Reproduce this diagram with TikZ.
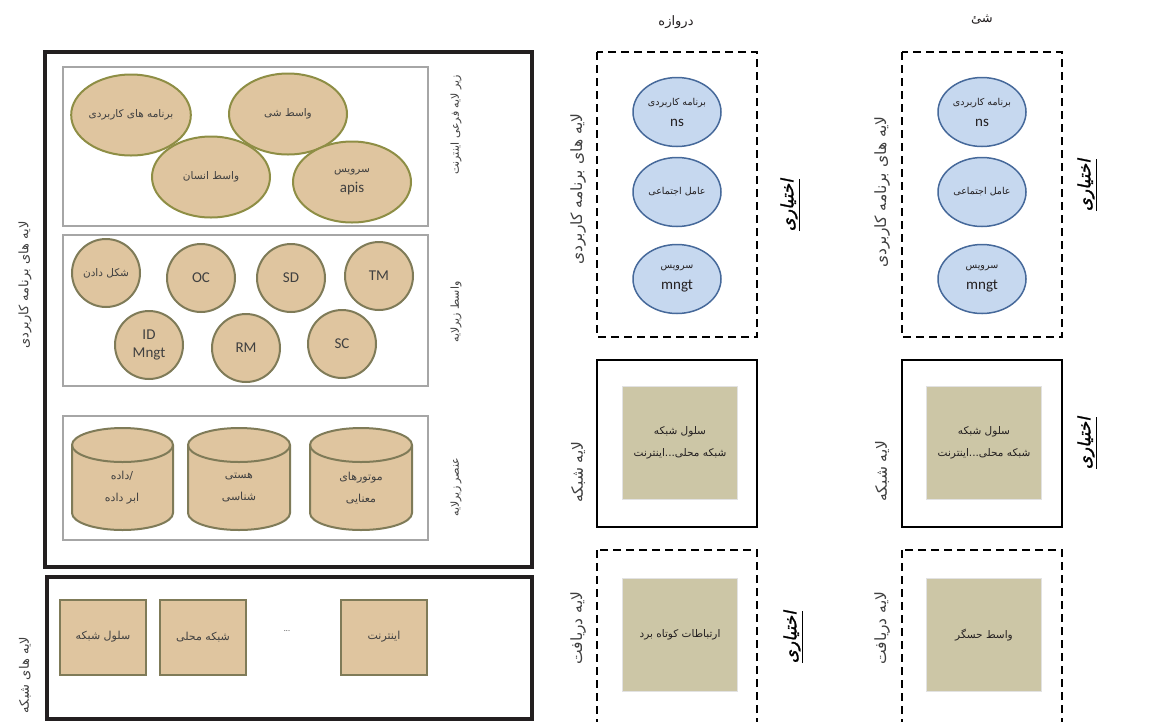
\documentclass[tikz,border=0pt]{standalone}
\usepackage{fontspec}
\setmainfont{Carlito}
\newfontfamily\arabicfont[Script=Arabic]{DejaVu Sans}
\newfontfamily\arabicbold[Script=Arabic,FakeBold=1.5,FakeSlant=0.2]{DejaVu Sans}
\TeXXeTstate=1
\usetikzlibrary{shapes.geometric}
\newcommand{\fatext}[1]{{\arabicfont\beginR #1\endR}}
\definecolor{tanfill}{HTML}{DFC59F}
\definecolor{oliveline}{HTML}{8E8E45}
\definecolor{circline}{HTML}{7F7B58}
\definecolor{boxgray}{HTML}{A6A6A6}
\definecolor{darkline}{HTML}{231F20}
\definecolor{textgray}{HTML}{404040}
\definecolor{bluefill}{HTML}{C6D8EF}
\definecolor{blueline}{HTML}{46699A}
\definecolor{khakifill}{HTML}{CCC6A6}
\definecolor{khakiline}{HTML}{E2E2E2}
\tikzset{
	tanellipse/.style={ellipse, draw=oliveline, line width=2pt, fill=tanfill, minimum width=118pt, minimum height=81pt, inner sep=0pt, align=center, text=textgray, font=\fontsize{10.5}{20}\selectfont},
	tancircle/.style={circle, draw=circline, line width=2pt, fill=tanfill, minimum size=68pt, inner sep=0pt, align=center, text=textgray, font=\fontsize{15}{18}\selectfont},
	tanbox/.style={draw=circline, line width=2pt, fill=tanfill, minimum width=86pt, minimum height=75pt, text=textgray, font=\fontsize{11}{12}\selectfont},
	tanline/.style={draw=circline, line width=2pt},
	graybox/.style={draw=boxgray, line width=1.8pt},
	thickbox/.style={draw=darkline, line width=3.5pt},
	blueellipse/.style={ellipse, draw=blueline, line width=1.5pt, fill=bluefill, minimum width=88pt, minimum height=69pt, inner sep=0pt, align=center, text=darkline, font=\fontsize{9.5}{21}\selectfont},
	khakibox/.style={draw=khakiline, line width=1.5pt, fill=khakifill, minimum width=115pt, minimum height=113pt, inner sep=0pt, align=center, text=darkline, font=\fontsize{10.5}{22}\selectfont},
	colbox/.style={draw=black, line width=1.8pt, dash pattern=on 8pt off 5pt},
	solidbox/.style={draw=black, line width=2.8pt},
	sidelabel/.style={rotate=90, text=textgray, font=\fontsize{11}{12}\selectfont},
	biglabel/.style={rotate=90, text=textgray, font=\fontsize{13}{14}\selectfont},
	collabel/.style={rotate=90, text=textgray, font=\fontsize{15.5}{17}\selectfont},
	optlabel/.style={rotate=90, font=\fontsize{17}{18}\selectfont},
	cyltext/.style={align=center, text=textgray, font=\fontsize{11}{22}\selectfont},
	coltitle/.style={text=darkline, font=\fontsize{13}{14}\selectfont},
}
\begin{document}
\begin{tikzpicture}[x=1pt,y=1pt]
	\useasboundingbox[fill=white] (0,0) rectangle (1161,-721);
	
	% Application layers
	\draw[thickbox] (45,-52) rectangle (532,-567);
	\node[biglabel] (applbl) at (25,-285) {\fatext{لایه های برنامه کاربردی}};
	
	% Internet sub-layer
	\draw[graybox] (63,-67) rectangle (428,-226);
	\node[sidelabel] (netsublbl) at (456,-125) {\fatext{زیر لایه فرعی اینترنت}};
	\node[tanellipse] (apps) at (131,-115) {\fatext{برنامه های کاربردی}};
	\node[tanellipse] (objif) at (288,-114) {\fatext{واسط شی}};
	\node[tanellipse] (humif) at (211,-177) {\fatext{واسط انسان}};
	\node[tanellipse] (apis) at (352,-182) {\fatext{سرویس}\\{\fontsize{15}{15}\selectfont apis}};
	
	% Middleware sub-layer
	\draw[graybox] (63,-235) rectangle (428,-386);
	\node[sidelabel] (midlbl) at (456,-312) {\fatext{واسط زیرلایه}};
	\node[tancircle, font=\fontsize{10.5}{11}\selectfont] (shape) at (106,-273) {\fatext{شکل دادن}};
	\node[tancircle] (oc) at (201,-278) {OC};
	\node[tancircle] (sd) at (291,-278) {SD};
	\node[tancircle] (tm) at (379,-276) {TM};
	\node[tancircle] (idm) at (149,-345) {ID\\Mngt};
	\node[tancircle] (rm) at (246,-348) {RM};
	\node[tancircle] (sc) at (342,-344) {SC};
	
	% Element sub-layer
	\draw[graybox] (63,-416) rectangle (428,-540);
	\node[sidelabel] (elemlbl) at (456,-487) {\fatext{عنصر زیرلایه}};
	\draw[tanline, fill=tanfill] (72,-445) -- (72,-513) arc (180:360:50.5 and 17) -- (173,-445) arc (0:180:50.5 and 17) -- cycle;
	\draw[tanline] (72,-445) arc (180:360:50.5 and 17);
	\draw[tanline, fill=tanfill] (188,-445) -- (188,-513) arc (180:360:51 and 17) -- (290,-445) arc (0:180:51 and 17) -- cycle;
	\draw[tanline] (188,-445) arc (180:360:51 and 17);
	\draw[tanline, fill=tanfill] (310,-445) -- (310,-513) arc (180:360:51 and 17) -- (412,-445) arc (0:180:51 and 17) -- cycle;
	\draw[tanline] (310,-445) arc (180:360:51 and 17);
	\node[cyltext] (data) at (122,-488) {\fatext{/داده}\\\fatext{ابر داده}};
	\node[cyltext] (onto) at (239,-488) {\fatext{هستی}\\\fatext{شناسی}};
	\node[cyltext] (sem) at (361,-488) {\fatext{موتورهای}\\\fatext{معنایی}};
	
	% Network layers
	\draw[thickbox] (47,-577) rectangle (532,-719);
	\node[biglabel] (netlbl) at (25,-675) {\fatext{لایه های شبکه}};
	\node[tanbox] (cell) at (103,-637) {\fatext{سلول شبکه}};
	\node[tanbox] (lan) at (203,-637) {\fatext{شبکه محلی}};
	\node[text=textgray, font=\fontsize{8}{8}\selectfont] (dots) at (287,-631) {...};
	\node[tanbox] (inet) at (384,-637) {\fatext{اینترنت}};
	
	% Gateway
	\node[coltitle] (gwtitle) at (676,-22) {\fatext{دروازه}};
	\draw[colbox] (597,-52) rectangle (757,-337);
	\node[collabel] (gwapplbl) at (578,-189) {\fatext{لایه های برنامه کاربردی}};
	\node[blueellipse] (gwns) at (677,-112) {\fatext{برنامه کاربردی}\\{\fontsize{15}{15}\selectfont ns}};
	\node[blueellipse] (gwsoc) at (677,-192) {\fatext{عامل اجتماعی}};
	\node[blueellipse] (gwmng) at (677,-279) {\fatext{سرویس}\\{\fontsize{15}{15}\selectfont mngt}};
	\node[optlabel] (gwopt1) at (790,-205) {\underline{\arabicbold\beginR اختیاری\endR}};
	\draw[solidbox] (597,-360) rectangle (757,-527);
	\node[collabel] (gwnetlbl) at (578,-472) {\fatext{لایه شبکه}};
	\node[khakibox] (gwnet) at (680,-443) {\fatext{سلول شبکه}\\\fatext{شبکه محلی...اینترنت}};
	\draw[colbox] (597,-550) rectangle (757,-740);
	\node[collabel] (gwrxlbl) at (578,-628) {\fatext{لایه دریافت}};
	\node[khakibox] (gwrx) at (680,-635) {\fatext{ارتباطات کوتاه برد}};
	\node[optlabel] (gwopt2) at (793,-637) {\underline{\arabicbold\beginR اختیاری\endR}};
	
	% Thing
	\node[coltitle] (thtitle) at (982,-20) {\fatext{شئ}};
	\draw[colbox] (902,-52) rectangle (1062,-337);
	\node[collabel] (thapplbl) at (882,-192) {\fatext{لایه های برنامه کاربردی}};
	\node[blueellipse] (thns) at (982,-112) {\fatext{برنامه کاربردی}\\{\fontsize{15}{15}\selectfont ns}};
	\node[blueellipse] (thsoc) at (982,-192) {\fatext{عامل اجتماعی}};
	\node[blueellipse] (thmng) at (982,-279) {\fatext{سرویس}\\{\fontsize{15}{15}\selectfont mngt}};
	\node[optlabel] (thopt1) at (1087,-185) {\underline{\arabicbold\beginR اختیاری\endR}};
	\draw[solidbox] (902,-360) rectangle (1062,-527);
	\node[collabel] (thnetlbl) at (882,-471) {\fatext{لایه شبکه}};
	\node[khakibox] (thnet) at (984,-443) {\fatext{سلول شبکه}\\\fatext{شبکه محلی...اینترنت}};
	\node[optlabel] (thopt2) at (1087,-443) {\underline{\arabicbold\beginR اختیاری\endR}};
	\draw[colbox] (902,-550) rectangle (1062,-740);
	\node[collabel] (thrxlbl) at (882,-628) {\fatext{لایه دریافت}};
	\node[khakibox] (thrx) at (984,-635) {\fatext{واسط حسگر}};
\end{tikzpicture}
\end{document}
